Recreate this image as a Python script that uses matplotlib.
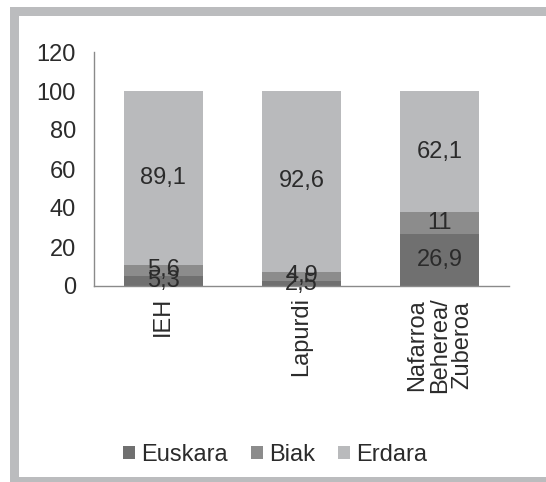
import matplotlib.pyplot as plt
from matplotlib.patches import Rectangle
import numpy as np

plt.rcParams["font.family"] = ["Liberation Sans", "DejaVu Sans"]

regions = ["IEH", "Lapurdi", "Nafarroa\nBeherea/\nZuberoa"]
euskara = [5.3, 2.5, 26.9]
biak = [5.6, 4.9, 11]
erdara = [89.1, 92.6, 62.1]
series_names = ["Euskara", "Biak", "Erdara"]
colors = ["#707070", "#8c8c8c", "#b9babc"]
text_color = "#2b2b2b"

W, H = 546, 482
fig = plt.figure(figsize=(W / 100, H / 100), dpi=100)

# grey frame around the chart (open on the right side)
fig.patches.append(Rectangle((10 / W, -0.1), 1.2, 1.1 - 7 / H, transform=fig.transFigure,
                             facecolor="#bbbcbe", edgecolor="none", zorder=-20))
fig.patches.append(Rectangle((19 / W, 5 / H), 1.2, 1 - 21 / H, transform=fig.transFigure,
                             facecolor="white", edgecolor="none", zorder=-10))

ax = fig.add_axes([94 / W, (H - 286) / H, (509 - 94) / W, (286 - 52) / H])
ax.set_facecolor("none")

fs = 17
x = np.arange(len(regions))
bottom = np.zeros(len(regions))
for name, vals, c in zip(series_names, [euskara, biak, erdara], colors):
    vals = np.array(vals)
    ax.bar(x, vals, width=0.57, bottom=bottom, color=c, label=name, zorder=2)
    for xi, b, v in zip(x, bottom, vals):
        ax.text(xi, b + v / 2, f"{v:g}".replace(".", ","), ha="center", va="center",
                fontsize=fs, color=text_color, zorder=3)
    bottom += vals

ax.set_xlim(-0.5, len(regions) - 0.5)
ax.set_ylim(0, 120)
ax.set_yticks(range(0, 121, 20))
ax.set_xticks(x)
ax.set_xticklabels(regions, rotation=90, va="top", ha="center", linespacing=1.05)
ax.tick_params(axis="both", length=0, labelsize=fs, labelcolor=text_color)
ax.tick_params(axis="y", pad=13)
ax.tick_params(axis="x", pad=8)
for s in ["top", "right"]:
    ax.spines[s].set_visible(False)
for s in ["left", "bottom"]:
    ax.spines[s].set_color("#8a8a8a")
    ax.spines[s].set_linewidth(1)

leg = fig.legend(loc="center", bbox_to_anchor=(275 / W, 1 - 455 / H), ncol=3, frameon=False,
                 fontsize=fs, handlelength=0.5, handleheight=0.5, handletextpad=0.25,
                 columnspacing=1.0)
for t in leg.get_texts():
    t.set_color(text_color)

fig.savefig("out.png", dpi=100, facecolor="white")
